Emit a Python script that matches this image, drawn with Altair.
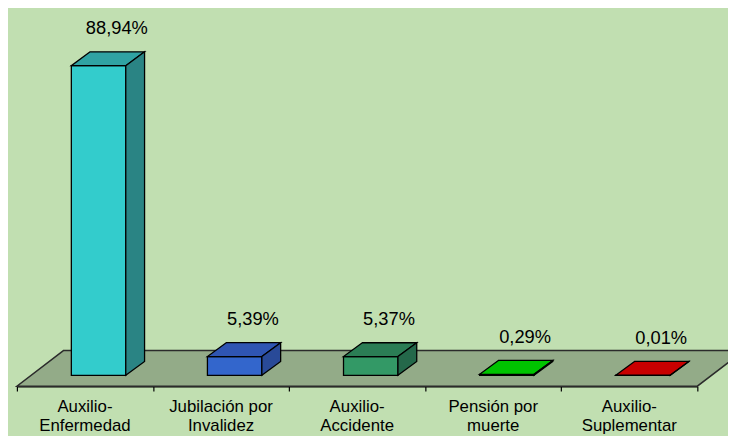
import altair as alt
import pandas as pd

# ---- data ----
categories = ["Auxilio-\nEnfermedad", "Jubilación por\nInvalidez", "Auxilio-\nAccidente",
              "Pensión por\nmuerte", "Auxilio-\nSuplementar"]
values = [88.94, 5.39, 5.37, 0.29, 0.01]
labels = ["88,94%", "5,39%", "5,37%", "0,29%", "0,01%"]
front_colors = ["#33cccc", "#3366cc", "#339966", "#00cc00", "#cc0000"]
top_colors = ["#30a3a3", "#2f55b2", "#2b7d55", "#00c400", "#c80000"]
side_colors = ["#2a8484", "#294a98", "#24684a", "#009000", "#900000"]

# ---- geometry (pseudo-3D) ----
PX_X = 137.6   # px per category unit
PX_Y = 3.52    # px per percent
DX = 19 / PX_X  # bar depth, x
DY = 14 / PX_Y  # bar depth, y
BAR_L, BAR_R = 0.4, 0.8
FLOOR_FRONT = -11 / PX_Y
FLOOR_BACK = 25 / PX_Y
FLOOR_DX = 47 / PX_X
N = len(values)

front, top, side, vlab, clab = [], [], [], [], []
for i, v in enumerate(values):
    x0, x1 = i + BAR_L, i + BAR_R
    front.append(dict(i=i, x0=x0, x1=x1, y0=0, y1=v, fill=front_colors[i]))
    top.append(dict(i=i, y=v, xa=x0, xb=x1, fill=top_colors[i]))
    top.append(dict(i=i, y=v + DY, xa=x0 + DX, xb=x1 + DX, fill=top_colors[i]))
    side.append(dict(i=i, x=x1, ya=v, yb=0, fill=side_colors[i]))
    side.append(dict(i=i, x=x1 + DX, ya=v + DY, yb=DY, fill=side_colors[i]))
    vlab.append(dict(xt=(x0 + x1) / 2 + DX / 2, yt=v + DY, label=labels[i]))
    clab.append(dict(xc=i + 0.5, cat=categories[i]))

floor = pd.DataFrame(dict(y=[FLOOR_FRONT, FLOOR_BACK], xa=[0, FLOOR_DX], xb=[N, N + FLOOR_DX]))

xs = alt.Scale(domain=[0, N], nice=False, zero=False)
ys = alt.Scale(domain=[FLOOR_FRONT, 104.83], nice=False, zero=False)
xaxis = alt.Axis(values=list(range(N + 1)), labels=False, ticks=True, tickSize=5,
                 tickColor="black", domainColor="black", domainWidth=1.5, tickWidth=1.2,
                 grid=False, title=None)

FONT = "Liberation Sans"

floor_layer = alt.Chart(floor).mark_area(
    orient="horizontal", fill="#93ab88", stroke="#2b2b2b", strokeWidth=1.5
).encode(
    y=alt.Y("y:Q", scale=ys, axis=None),
    x=alt.X("xa:Q", scale=xs, axis=xaxis),
    x2="xb:Q",
)

front_layer = alt.Chart(pd.DataFrame(front)).mark_rect(stroke="black", strokeWidth=1.3).encode(
    x=alt.X("x0:Q", scale=xs, axis=xaxis), x2="x1:Q",
    y=alt.Y("y0:Q", scale=ys, axis=None), y2="y1:Q",
    fill=alt.Fill("fill:N", scale=None),
)

top_layer = alt.Chart(pd.DataFrame(top)).mark_area(
    orient="horizontal", stroke="black", strokeWidth=1.3
).encode(
    y=alt.Y("y:Q", scale=ys, axis=None),
    x=alt.X("xa:Q", scale=xs, axis=xaxis), x2="xb:Q",
    detail="i:N",
    fill=alt.Fill("fill:N", scale=None),
)

side_layer = alt.Chart(pd.DataFrame(side)).mark_area(
    orient="vertical", stroke="black", strokeWidth=1.3
).encode(
    x=alt.X("x:Q", scale=xs, axis=xaxis),
    y=alt.Y("ya:Q", scale=ys, axis=None), y2="yb:Q",
    detail="i:N",
    fill=alt.Fill("fill:N", scale=None),
)

value_layer = alt.Chart(pd.DataFrame(vlab)).mark_text(
    font=FONT, fontSize=18.5, color="black", dx=9, dy=-18, baseline="alphabetic", align="center"
).encode(
    x=alt.X("xt:Q", scale=xs, axis=xaxis),
    y=alt.Y("yt:Q", scale=ys, axis=None),
    text="label:N",
)

cat_layer = alt.Chart(pd.DataFrame(clab)).mark_text(
    font=FONT, fontSize=17, color="black", lineBreak="\n", lineHeight=19.5,
    baseline="alphabetic", align="center"
).encode(
    x=alt.X("xc:Q", scale=xs, axis=xaxis),
    y=alt.value(406),
    text="cat:N",
)

chart = alt.layer(
    floor_layer, front_layer, top_layer, side_layer, value_layer, cat_layer
).properties(
    width=688, height=380,
    autosize=alt.AutoSizeParams(type="none"),
    padding={"left": 9, "top": 0, "right": 31, "bottom": 48},
    background="#c1dfb1",
).configure_view(stroke=None)

chart.save("out.html", embed_options={"renderer": "svg", "actions": False})
